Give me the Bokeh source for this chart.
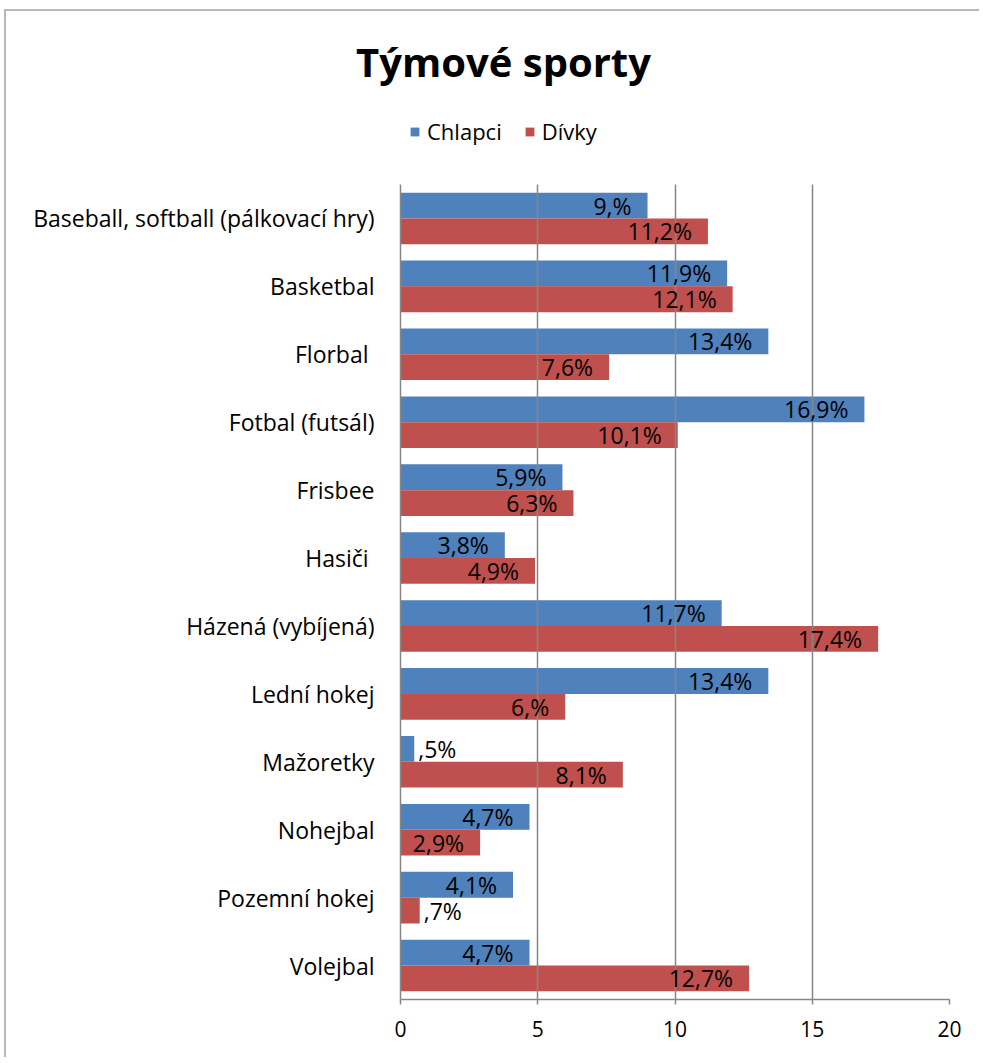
from bokeh.plotting import figure
from bokeh.models import (ColumnDataSource, FactorRange, Range1d, Legend, LegendItem,
                          Label, FixedTicker)
from bokeh.transform import dodge
from bokeh.core.properties import value
from bokeh.embed import file_html
from bokeh.resources import INLINE

categories = ["Baseball, softball (pálkovací hry)", "Basketbal", "Florbal ", "Fotbal (futsál)",
              "Frisbee", "Hasiči ", "Házená (vybíjená)", "Lední hokej", "Mažoretky",
              "Nohejbal", "Pozemní hokej", "Volejbal"]
chlapci = [9.0, 11.9, 13.4, 16.9, 5.9, 3.8, 11.7, 13.4, 0.5, 4.7, 4.1, 4.7]
divky = [11.2, 12.1, 7.6, 10.1, 6.3, 4.9, 17.4, 6.0, 8.1, 2.9, 0.7, 12.7]
x_ticks = [0, 5, 10, 15, 20]
title_text = "Týmové sporty"
series_names = ["Chlapci", "Dívky"]

FONT = "Open Sans"
BLUE = "#4F81BD"
RED = "#C0504D"
GRAY = "#868686"
BORDER = "2px solid #b8b8b8"


def fmt(v):
    s = f"{v:.1f}".replace(".", ",")
    if s.endswith(",0"):
        s = s[:-1]
    if s.startswith("0,"):
        s = s[1:]
    return s + "%"


W = 975
HEAD_H = 175
MAIN_H = 873

# ---------------- header: title + legend ----------------
head = figure(width=W, height=HEAD_H, output_backend="svg", toolbar_location=None,
              x_range=Range1d(0, W), y_range=Range1d(HEAD_H, 0),
              x_axis_location=None, y_axis_location=None,
              min_border_left=0, min_border_right=0, min_border_top=0, min_border_bottom=0,
              styles={"margin-top": "9px", "margin-left": "4px",
                      "border-top": BORDER, "border-left": BORDER})
head.outline_line_color = None
head.grid.grid_line_color = None

head.add_layout(Label(x=497, y=50, text=title_text, text_align="center",
                      text_baseline="middle", text_font=FONT, text_font_size="40px",
                      text_font_style="bold", text_color="black"))

# legend swatch proxies (zero-width bars, nothing visible in the header itself)
proxy = ColumnDataSource(dict(y=[0], right=[0]))
lb = head.hbar(y="y", right="right", left=0, height=0, source=proxy,
               fill_color=BLUE, line_color=None)
lr = head.hbar(y="y", right="right", left=0, height=0, source=proxy,
               fill_color=RED, line_color=None)
legend = Legend(items=[LegendItem(label=series_names[0], renderers=[lb]),
                       LegendItem(label=series_names[1], renderers=[lr])],
                orientation="horizontal", location=(403, 40),
                glyph_width=11, glyph_height=11, label_standoff=7, spacing=22,
                padding=0, margin=0, border_line_color=None, background_fill_alpha=0,
                label_text_font=FONT, label_text_font_size="22px", label_text_color="black")
head.add_layout(legend)

# ---------------- main chart ----------------
p = figure(width=W, height=MAIN_H, output_backend="svg", toolbar_location=None,
           y_range=FactorRange(*list(reversed(categories)), range_padding=0),
           x_range=Range1d(0, 20),
           min_border_left=394, min_border_right=32, min_border_top=0, min_border_bottom=58,
           styles={"margin-left": "4px", "border-left": BORDER})
p.outline_line_color = None
p.background_fill_color = "white"

src = ColumnDataSource(dict(cat=categories, ch=chlapci, dv=divky))

OFF = 0.19
p.hbar(y=dodge("cat", OFF, range=p.y_range), right="ch", left=0, height=0.38,
       source=src, fill_color=BLUE, line_color=None)
p.hbar(y=dodge("cat", -OFF, range=p.y_range), right="dv", left=0, height=0.38,
       source=src, fill_color=RED, line_color=None)

# data labels: inside end for large bars, outside end for tiny ones
for vals, off in ((chlapci, OFF), (divky, -OFF)):
    for inside in (True, False):
        idx = [i for i, v in enumerate(vals) if (v >= 2) == inside]
        if not idx:
            continue
        sub = ColumnDataSource(dict(cat=[categories[i] for i in idx],
                                    x=[vals[i] for i in idx],
                                    t=[fmt(vals[i]) for i in idx]))
        p.text(x="x", y=dodge("cat", off, range=p.y_range), text="t", source=sub,
               text_align="right" if inside else "left", text_baseline="middle",
               x_offset=-16 if inside else 4,
               text_font=value(FONT), text_font_size="23px", text_color="black",
               level="annotation")

# grid
p.xgrid.ticker = FixedTicker(ticks=x_ticks[1:])
p.xgrid.grid_line_color = GRAY
p.xgrid.grid_line_width = 1.5
p.xgrid.level = "guide"
p.ygrid.grid_line_color = None

# axes
p.xaxis.ticker = FixedTicker(ticks=x_ticks)
p.xaxis.axis_line_color = GRAY
p.xaxis.axis_line_width = 1.5
p.xaxis.major_tick_line_color = GRAY
p.xaxis.major_tick_line_width = 1.5
p.xaxis.major_tick_out = 5
p.xaxis.major_tick_in = 0
p.xaxis.minor_tick_line_color = None
p.xaxis.major_label_standoff = 16
p.xaxis.major_label_text_font = FONT
p.xaxis.major_label_text_font_size = "21px"
p.xaxis.major_label_text_color = "black"

p.yaxis.axis_line_color = GRAY
p.yaxis.axis_line_width = 1.5
p.yaxis.major_tick_line_color = None
p.yaxis.minor_tick_line_color = None
p.yaxis.major_label_standoff = 20
p.yaxis.major_label_text_font = FONT
p.yaxis.major_label_text_font_size = "23px"
p.yaxis.major_label_text_color = "black"

open("out.html", "w").write(file_html([head, p], INLINE))
